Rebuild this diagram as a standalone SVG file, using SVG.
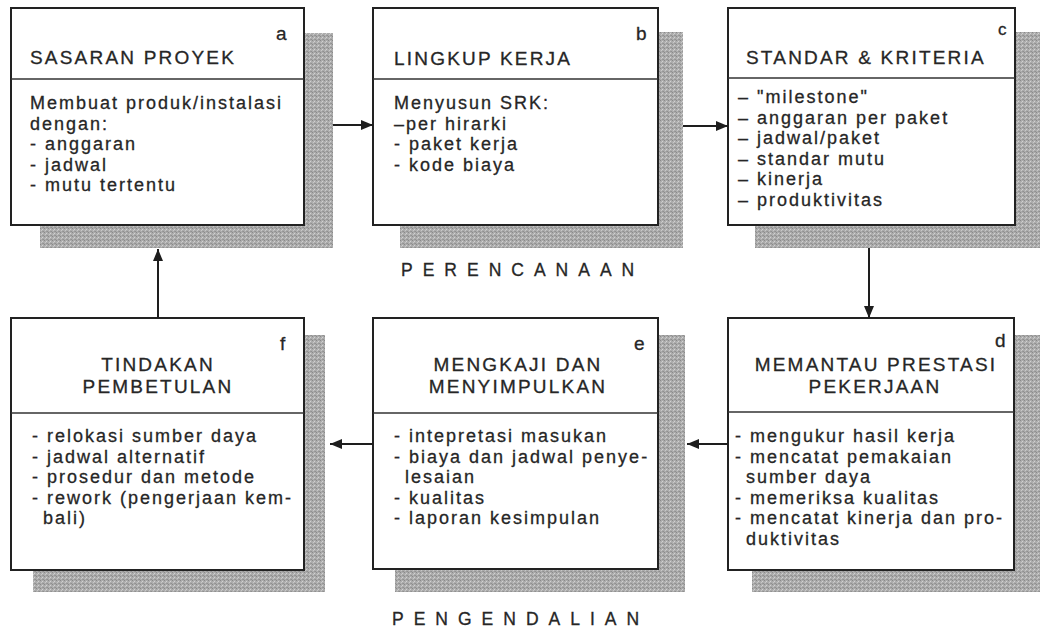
<svg xmlns="http://www.w3.org/2000/svg" width="1040" height="634" viewBox="0 0 1040 634">
<style>
  .box { fill: #ffffff; stroke: #222222; stroke-width: 2; }
  .div { stroke: #333333; stroke-width: 1.5; }
  .shadow { fill: url(#dots); }
  text { font-family: "Liberation Sans", Arial, sans-serif; fill: #262626; stroke: #262626; stroke-width: 0.3; }
  .t { font-size: 19px; letter-spacing: 2.2px; }
  .b { font-size: 18px; letter-spacing: 2px; }
  .lbl { font-size: 19px; }
  .sec { font-size: 17.5px; letter-spacing: 10px; }
  .conn { stroke: #1e1e1e; stroke-width: 2; fill: none; }
</style>
<defs>
  <pattern id="dots" width="4" height="4" patternUnits="userSpaceOnUse">
    <rect width="4" height="4" fill="#acacac"/>
    <rect x="0" y="0" width="1" height="1" fill="#8a8a8a"/>
    <rect x="2" y="1" width="1" height="1" fill="#d2d2d2"/>
    <rect x="1" y="2" width="1" height="1" fill="#c8c8c8"/>
    <rect x="3" y="3" width="1" height="1" fill="#909090"/>
    <rect x="2" y="3" width="1" height="1" fill="#9a9a9a"/>
  </pattern>
  <marker id="ah" viewBox="0 0 12 10" refX="12" refY="5" markerWidth="12" markerHeight="10" markerUnits="userSpaceOnUse" orient="auto">
    <path d="M0,0 L12,5 L0,10 Z" fill="#1e1e1e"/>
  </marker>
</defs>
<rect width="1040" height="634" fill="#ffffff"/>

<g id="node-a">
  <rect class="shadow" x="40" y="33" width="293" height="215"/>
  <rect class="box" x="11" y="8" width="293" height="217"/>
  <line class="div" x1="11" y1="79" x2="304" y2="79"/>
  <text class="lbl" x="276" y="40">a</text>
  <text class="t" x="30" y="64">SASARAN PROYEK</text>
  <text class="b" x="30" y="109">Membuat produk/instalasi</text>
  <text class="b" x="30" y="129.5">dengan:</text>
  <text class="b" x="30" y="150">- anggaran</text>
  <text class="b" x="30" y="170.5">- jadwal</text>
  <text class="b" x="30" y="191">- mutu tertentu</text>
</g>

<g id="node-b">
  <rect class="shadow" x="400" y="32" width="283" height="216"/>
  <rect class="box" x="373" y="8" width="285" height="217"/>
  <line class="div" x1="373" y1="79" x2="658" y2="79"/>
  <text class="lbl" x="636" y="40">b</text>
  <text class="t" x="394" y="65">LINGKUP KERJA</text>
  <text class="b" x="394" y="109">Menyusun SRK:</text>
  <text class="b" x="394" y="129.5">–per hirarki</text>
  <text class="b" x="394" y="150">- paket kerja</text>
  <text class="b" x="394" y="170.5">- kode biaya</text>
</g>

<g id="node-c">
  <rect class="shadow" x="755" y="32" width="285" height="216"/>
  <rect class="box" x="728" y="8" width="287" height="217"/>
  <line class="div" x1="728" y1="78" x2="1015" y2="78"/>
  <text class="lbl" x="998" y="35" style="font-size:17px">c</text>
  <text class="t" x="746" y="64">STANDAR &amp; KRITERIA</text>
  <text class="b" x="738" y="103">– "milestone"</text>
  <text class="b" x="738" y="123.5">– anggaran per paket</text>
  <text class="b" x="738" y="144">– jadwal/paket</text>
  <text class="b" x="738" y="164.5">– standar mutu</text>
  <text class="b" x="738" y="185">– kinerja</text>
  <text class="b" x="738" y="205.5">– produktivitas</text>
</g>

<g id="node-d">
  <rect class="shadow" x="752" y="335" width="288" height="257"/>
  <rect class="box" x="728" y="318" width="286" height="252"/>
  <line class="div" x1="728" y1="412" x2="1014" y2="412"/>
  <text class="lbl" x="995" y="347">d</text>
  <text class="t" x="876" y="371" text-anchor="middle">MEMANTAU PRESTASI</text>
  <text class="t" x="875" y="393" text-anchor="middle">PEKERJAAN</text>
  <text class="b" x="735" y="442">- mengukur hasil kerja</text>
  <text class="b" x="735" y="462.5">- mencatat pemakaian</text>
  <text class="b" x="746" y="483">sumber daya</text>
  <text class="b" x="735" y="503.5">- memeriksa kualitas</text>
  <text class="b" x="735" y="524">- mencatat kinerja dan pro-</text>
  <text class="b" x="746" y="544.5">duktivitas</text>
</g>

<g id="node-e">
  <rect class="shadow" x="395" y="335" width="290" height="257"/>
  <rect class="box" x="373" y="318" width="285" height="251"/>
  <line class="div" x1="373" y1="413" x2="658" y2="413"/>
  <text class="lbl" x="634" y="350">e</text>
  <text class="t" x="518" y="371" text-anchor="middle">MENGKAJI DAN</text>
  <text class="t" x="518" y="393" text-anchor="middle">MENYIMPULKAN</text>
  <text class="b" x="394" y="442">- intepretasi masukan</text>
  <text class="b" x="394" y="462.5">- biaya dan jadwal penye-</text>
  <text class="b" x="405" y="483">lesaian</text>
  <text class="b" x="394" y="503.5">- kualitas</text>
  <text class="b" x="394" y="524">- laporan kesimpulan</text>
</g>

<g id="node-f">
  <rect class="shadow" x="33" y="335" width="292" height="257"/>
  <rect class="box" x="11" y="318" width="293" height="252"/>
  <line class="div" x1="11" y1="413" x2="304" y2="413"/>
  <text class="lbl" x="280" y="350">f</text>
  <text class="t" x="158" y="371" text-anchor="middle">TINDAKAN</text>
  <text class="t" x="158" y="393" text-anchor="middle">PEMBETULAN</text>
  <text class="b" x="32" y="442">- relokasi sumber daya</text>
  <text class="b" x="32" y="462.5">- jadwal alternatif</text>
  <text class="b" x="32" y="483">- prosedur dan metode</text>
  <text class="b" x="32" y="503.5">- rework (pengerjaan kem-</text>
  <text class="b" x="43" y="524">bali)</text>
</g>

<g id="labels">
  <text class="sec" x="401" y="276">PERENCANAAN</text>
  <text class="sec" x="392" y="625">PENGENDALIAN</text>
</g>

<g id="connectors">
  <line class="conn" x1="333" y1="125" x2="373" y2="125" marker-end="url(#ah)"/>
  <line class="conn" x1="683" y1="126" x2="728" y2="126" marker-end="url(#ah)"/>
  <line class="conn" x1="869" y1="248" x2="869" y2="318" marker-end="url(#ah)"/>
  <line class="conn" x1="728" y1="444" x2="687" y2="444" marker-end="url(#ah)"/>
  <line class="conn" x1="373" y1="444" x2="330" y2="444" marker-end="url(#ah)"/>
  <line class="conn" x1="158" y1="318" x2="158" y2="249" marker-end="url(#ah)"/>
</g>
</svg>
